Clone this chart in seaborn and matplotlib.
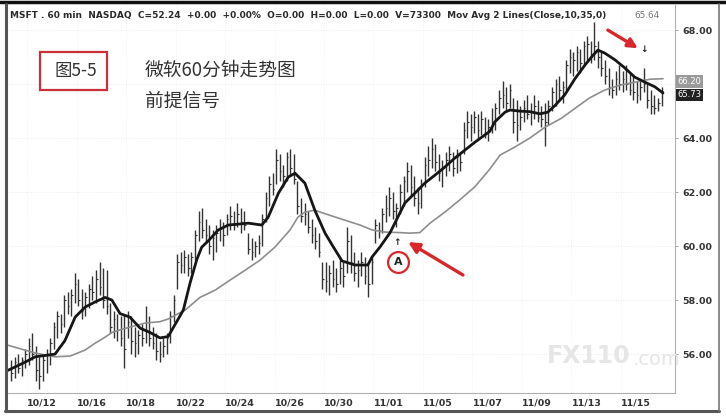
import numpy as np
import pandas as pd
import matplotlib
matplotlib.use("Agg")
import matplotlib.pyplot as plt
import seaborn as sns
from matplotlib.patches import Rectangle
from matplotlib.lines import Line2D

# trading days shown (first and last are partial sessions)
day_labels = ["10/11", "10/12", "10/15", "10/16", "10/17", "10/18", "10/19",
              "10/22", "10/23", "10/24", "10/25", "10/26", "10/29", "10/30",
              "10/31", "11/01", "11/02", "11/05", "11/06", "11/07", "11/08",
              "11/09", "11/12", "11/13", "11/14", "11/15", "11/16"]
bars_per_day = [5] + [7] * 25 + [5]
shown_labels = ["10/12", "10/16", "10/18", "10/22", "10/24", "10/26", "10/30",
                "11/01", "11/05", "11/07", "11/09", "11/13", "11/15"]

# 60-minute bars, one row per day
highs = [
    55.8, 55.9, 56.0, 55.9, 56.2,
    56.6, 56.8, 56.3, 55.9, 56.0, 56.2, 56.6,
    57.2, 57.6, 57.5, 58.2, 58.3, 58.4, 59.0,
    58.8, 58.4, 58.3, 58.6, 58.9, 59.1, 59.4,
    59.2, 59.1, 57.9, 57.6, 57.5, 57.4, 57.5,
    57.6, 57.4, 57.0, 56.9, 57.1, 57.8, 57.4,
    57.0, 56.8, 56.5, 56.6, 56.8, 57.6, 58.2,
    59.7, 59.8, 59.85, 59.7, 59.8, 60.6, 61.3,
    61.4, 61.0, 60.8, 60.6, 60.8, 61.0, 60.9,
    61.2, 61.5, 61.3, 61.6, 61.4, 61.3, 60.5,
    60.3, 60.2, 60.4, 61.2, 62.0, 62.6, 62.7,
    63.6, 63.4, 63.0, 63.5, 63.6, 63.4, 62.4,
    61.8, 61.6, 61.3, 61.0, 60.7, 60.5, 59.4,
    59.4, 59.3, 59.5, 59.2, 59.6, 59.4, 60.7,
    60.4, 59.8, 59.5, 59.8, 59.6, 59.3, 59.6,
    61.0, 60.9, 61.4, 61.9, 62.2, 62.0, 61.6,
    62.3, 62.6, 63.1, 63.0, 62.6, 62.2, 62.5,
    63.3, 63.7, 64.0, 63.8, 63.4, 63.2, 63.5,
    63.7, 63.5, 63.6, 63.5, 64.6, 65.0, 64.9,
    65.0, 64.9, 65.0, 64.8, 64.7, 65.1, 65.3,
    65.8, 66.1, 65.9, 66.0, 65.5, 65.4, 65.2,
    65.4, 65.6, 65.3, 65.6, 65.4, 65.2, 65.3,
    65.4, 65.9, 66.2, 66.3, 66.1, 66.9, 67.3,
    67.2, 67.4, 67.3, 67.6, 67.8, 67.6, 68.3,
    67.6, 67.2, 66.9, 66.6, 66.2, 66.5, 66.7,
    66.5, 66.7, 66.4, 66.3, 66.1, 66.2, 66.6,
    66.0, 65.8, 65.6, 65.5, 65.9,
]
lows = [
    55.0, 55.1, 55.3, 55.2, 55.5,
    55.6, 55.8, 55.0, 54.7, 55.0, 55.3, 55.6,
    56.2, 56.6, 56.8, 57.0, 57.5, 57.4, 57.9,
    57.8, 57.3, 57.4, 57.7, 58.0, 57.9, 58.2,
    57.7, 57.5, 56.8, 56.6, 56.5, 56.3, 55.5,
    56.6, 56.0, 55.9, 56.0, 56.3, 56.4, 56.3,
    56.2, 55.8, 55.7, 55.9, 56.0, 56.4, 57.2,
    58.4, 59.0, 59.0, 58.9, 59.0, 59.5, 60.2,
    60.3, 60.1, 59.7, 59.5, 59.8, 60.2, 60.0,
    60.4, 60.6, 60.6, 60.7, 60.5, 60.6, 59.7,
    59.5, 59.6, 59.7, 60.0, 60.9, 61.5, 61.9,
    62.3, 62.4, 62.2, 62.4, 62.6, 62.3, 61.2,
    60.9, 60.8, 60.5, 60.1, 59.9, 59.6, 58.4,
    58.3, 58.2, 58.5, 58.3, 58.6, 58.5, 59.0,
    59.0, 58.7, 58.5, 58.9, 58.6, 58.1, 58.6,
    60.1, 60.3, 60.5, 60.9, 61.1, 61.0, 60.7,
    61.2, 61.5, 62.0, 61.9, 61.5, 61.2, 61.4,
    62.2, 62.6, 62.9, 62.8, 62.4, 62.2, 62.6,
    62.8, 62.6, 62.7, 62.8, 63.4, 64.0, 63.9,
    64.2, 64.0, 64.1, 64.0, 63.9, 64.2, 64.3,
    64.9, 65.1, 65.0, 65.1, 64.2, 63.9, 64.3,
    64.6, 64.7, 64.5, 64.7, 64.6, 64.4, 63.7,
    64.5, 65.0, 65.2, 65.4, 65.3, 65.8, 66.4,
    66.3, 66.5, 66.4, 66.7, 66.9, 66.8, 66.9,
    66.6, 66.3, 66.0, 65.6, 65.5, 65.6, 65.8,
    65.7, 65.8, 65.6, 65.4, 65.3, 65.4, 65.7,
    65.1, 64.9, 64.9, 65.0, 65.2,
]
closes = [
    55.3, 55.7, 55.5, 55.8, 56.0,
    56.3, 56.0, 55.4, 55.2, 55.8, 56.0, 56.4,
    57.0, 57.4, 57.1, 58.0, 57.8, 58.2, 58.6,
    58.0, 57.6, 58.1, 58.4, 58.3, 58.8, 58.5,
    58.0, 57.8, 57.0, 57.3, 56.9, 56.6, 56.2,
    57.2, 56.5, 56.4, 56.7, 56.6, 56.9, 56.6,
    56.4, 56.1, 56.0, 56.3, 56.6, 57.4, 58.0,
    59.4, 59.3, 59.6, 59.2, 59.6, 60.4, 60.9,
    60.6, 60.4, 60.0, 60.3, 60.5, 60.7, 60.4,
    61.0, 61.1, 60.8, 61.2, 60.9, 60.8, 59.9,
    59.8, 60.0, 60.1, 61.0, 61.8, 62.3, 62.1,
    63.2, 62.8, 62.6, 63.3, 62.9, 62.5, 61.5,
    61.1, 61.2, 60.7, 60.4, 60.2, 59.8, 58.8,
    58.7, 59.0, 58.8, 58.6, 59.2, 58.9, 60.2,
    59.4, 59.0, 59.1, 59.4, 58.9, 58.6, 59.4,
    60.8, 60.6, 61.2, 61.4, 61.8, 61.3, 61.4,
    62.0, 62.4, 62.8, 62.2, 61.8, 61.6, 62.3,
    63.0, 63.2, 63.6, 63.1, 62.7, 62.9, 63.2,
    63.4, 62.9, 63.3, 63.1, 64.3, 64.6, 64.4,
    64.8, 64.3, 64.7, 64.2, 64.4, 64.6, 65.1,
    65.5, 65.6, 65.3, 65.8, 64.6, 64.5, 64.8,
    65.1, 64.9, 65.0, 65.2, 64.8, 64.7, 64.6,
    65.2, 65.7, 66.0, 65.8, 65.9, 66.7, 67.0,
    66.9, 67.2, 66.8, 67.4, 67.5, 67.0, 67.4,
    67.0, 66.6, 66.3, 65.9, 65.8, 66.2, 66.0,
    66.2, 66.0, 65.8, 65.7, 65.6, 65.9, 66.0,
    65.4, 65.2, 65.1, 65.3, 65.73,
]

# moving averages (bar position, price)
ma10_pos = [-0.9, 3.9, 6.8, 12.4, 15.2, 18.1, 20.9, 23.7, 26.6, 28.5, 30.8,
            33.6, 36.5, 39.3, 42.1, 44.4, 48.7, 50.6, 52.5, 53.9, 55.8, 58.6,
            61.4, 67.1, 70.9, 72.7, 75.6, 78.4, 80.3, 83.1, 85.9, 88.8, 91.0,
            93.6, 97.3, 100.9, 102.1, 104.3, 107.2, 109.1, 111.4, 114.2, 117.0,
            119.9, 122.7, 125.5, 128.4, 131.2, 135.4, 136.8, 139.7, 141.1,
            143.9, 146.7, 149.6, 151.8, 153.8, 156.6, 159.5, 162.3, 164.6,
            166.0, 167.9, 170.8, 173.6, 176.4, 179.3, 182.1, 184.4]
ma10_val = [55.4, 55.7, 55.9, 56.0, 56.5, 57.37, 57.74, 57.93, 58.1, 58.0, 57.5,
            57.37, 56.96, 56.8, 56.6, 56.65, 57.63, 58.63, 59.5, 59.96, 60.2,
            60.6, 60.78, 60.85, 60.78, 61.07, 61.96, 62.56, 62.7, 62.33, 61.33,
            60.48, 60.0, 59.45, 59.3, 59.3, 59.6, 59.96, 60.5, 61.0, 61.6,
            61.96, 62.33, 62.63, 62.93, 63.26, 63.56, 63.85, 64.25, 64.6,
            64.96, 65.04, 65.0, 64.98, 64.9, 64.96, 65.2, 65.6, 66.2, 66.7,
            67.07, 67.26, 67.15, 66.9, 66.6, 66.26, 66.07, 65.9, 65.67]
ma35_pos = [-0.9, 2.5, 6.8, 12.4, 16.7, 20.9, 23.7, 26.6, 28.5, 30.8, 33.6,
            37.9, 42.1, 44.4, 49.2, 53.4, 57.7, 61.9, 66.1, 70.4, 74.6, 78.9,
            81.1, 83.1, 85.9, 88.8, 94.4, 98.7, 102.1, 105.7, 110.0, 112.8,
            115.6, 118.5, 122.7, 126.8, 131.2, 135.4, 138.3, 142.5, 146.7,
            151.0, 155.7, 159.5, 163.5, 167.9, 172.2, 176.4, 180.7, 184.4]
ma35_val = [56.33, 56.2, 56.04, 55.9, 55.93, 56.15, 56.4, 56.63, 56.8, 56.9,
            57.0, 57.15, 57.2, 57.3, 57.63, 58.1, 58.37, 58.74, 59.1, 59.48,
            59.96, 60.6, 61.07, 61.26, 61.33, 61.2, 60.96, 60.78, 60.6, 60.52,
            60.5, 60.48, 60.5, 60.85, 61.26, 61.7, 62.2, 62.85, 63.37, 63.67,
            64.0, 64.4, 64.74, 65.1, 65.48, 65.78, 65.96, 66.07, 66.18, 66.2]

price_ticks = [56, 58, 60, 62, 64, 66, 68]

bars = pd.DataFrame({"high": highs, "low": lows, "close": closes})
bars["pos"] = np.arange(len(bars))
day_start = np.cumsum([0] + bars_per_day[:-1]) - 0.5
label_pos = [day_start[day_labels.index(d)] for d in shown_labels]
extra_tick = label_pos[-1] + 7 * 2   # unlabeled tick two sessions after 11/15

sns.set_theme(style="white")
plt.rcParams["font.family"] = ["DejaVu Sans", "Noto Sans CJK SC"]

W, H = 726, 419
fig = plt.figure(figsize=(W / 100, H / 100), dpi=100)
fig.patch.set_facecolor("white")
ax = fig.add_axes([8 / W, 1 - 393 / H, (675 - 8) / W, (393 - 5) / H])

# faint grid
for p in price_ticks:
    ax.axhline(p, color="#e4e4e4", lw=0.6, ls=(0, (1, 2)), zorder=0)
for p in label_pos:
    ax.axvline(p, color="#ececec", lw=0.6, ls=(0, (1, 2)), zorder=0)

# HLC bars
ax.vlines(bars["pos"], bars["low"], bars["high"], color="#333333", lw=1.0, zorder=2)
ax.hlines(bars["close"], bars["pos"], bars["pos"] + 0.45, color="#333333", lw=0.8, zorder=2)

sns.lineplot(x=ma35_pos, y=ma35_val, ax=ax, color="#8e8e8e", lw=1.2, sort=False, zorder=3)
sns.lineplot(x=ma10_pos, y=ma10_val, ax=ax, color="#161616", lw=2.0, sort=False, zorder=4)

ax.set_xticks(list(label_pos) + [extra_tick])
ax.set_xticklabels(shown_labels + [""], fontsize=6.8, fontweight="bold", color="#333333")
for lbl in ax.get_xticklabels():
    lbl.set_ha("left")
ax.tick_params(axis="x", direction="in", length=4, width=0.6, color="#999999", pad=4)

ax.yaxis.tick_right()
ax.set_yticks(price_ticks)
ax.set_yticklabels([f"{p:.2f}" if p != 66 else "" for p in price_ticks],
                   fontsize=6.8, fontweight="bold", color="#333333")
ax.tick_params(axis="y", direction="out", length=2, width=0.6, color="#999999", pad=3)

ax.set_xlim(-0.9, 187.8)
ax.set_ylim(54.56, 68.93)

for side in ["top", "left"]:
    ax.spines[side].set_visible(False)
ax.spines["bottom"].set_color("#b0b0b0")
ax.spines["bottom"].set_linewidth(0.8)
ax.spines["right"].set_color("#b0b0b0")
ax.spines["right"].set_linewidth(0.8)

# value tags on the price axis (stacked)
ytr = ax.get_yaxis_transform()
ax.text(1.004, 66.10, "66.20", transform=ytr, fontsize=6.0, color="white", va="center", ha="left",
        bbox=dict(boxstyle="square,pad=0.2", fc="#9a9a9a", ec="none"), zorder=6, clip_on=False)
ax.text(1.004, 65.60, "65.73", transform=ytr, fontsize=6.0, color="white", va="center", ha="left",
        bbox=dict(boxstyle="square,pad=0.2", fc="#222222", ec="none"), zorder=6, clip_on=False)

# signal annotations
red = "#d9262b"
ax.annotate("", xy=(112.3, 60.15), xytext=(127.8, 58.93),
            arrowprops=dict(arrowstyle="-|>", color=red, lw=2.4, mutation_scale=16, shrinkA=0, shrinkB=0),
            zorder=7)
ax.text(109.1, 60.15, "↑", fontsize=6.5, fontweight="bold", ha="center", va="center", color="#222222")
ax.plot([109.4], [59.4], marker="o", ms=15, mfc="white", mec=red, mew=1.6, zorder=7)
ax.text(109.4, 59.4, "A", fontsize=8, fontweight="bold", ha="center", va="center", color="#222222", zorder=8)

ax.annotate("", xy=(177.3, 67.33), xytext=(168.8, 68.0),
            arrowprops=dict(arrowstyle="-|>", color=red, lw=2.4, mutation_scale=14, shrinkA=0, shrinkB=0),
            zorder=7)
ax.text(178.9, 67.3, "↓", fontsize=6.5, fontweight="bold", ha="center", va="center", color="#222222")

# header line
fig.text(10 / W, 1 - 15 / H, "MSFT . 60 min  NASDAQ  C=52.24  +0.00  +0.00%  O=0.00  H=0.00  "
         "L=0.00  V=73300  Mov Avg 2 Lines(Close,10,35,0)",
         fontsize=6.5, fontweight="bold", color="#2a2a2a", va="center", ha="left")
fig.text(634 / W, 1 - 15 / H, "65.64", fontsize=6.4, color="#777777", va="center", ha="left")

# title block
fig.add_artist(Rectangle((40 / W, 1 - 90 / H), 67 / W, 38 / H, transform=fig.transFigure,
                         fill=False, ec="#c9303a", lw=1.6))
fig.text(76 / W, 1 - 71 / H, "图5-5", fontsize=12.5, color="#333333", ha="center", va="center",
         family=["Noto Sans CJK SC", "DejaVu Sans"])
fig.text(145 / W, 1 - 70 / H, "微软60分钟走势图", fontsize=13.5, color="#333333", ha="left", va="center",
         family=["Noto Sans CJK SC", "DejaVu Sans"])
fig.text(145 / W, 1 - 101 / H, "前提信号", fontsize=13.5, color="#333333", ha="left", va="center",
         family=["Noto Sans CJK SC", "DejaVu Sans"])

# watermark
fig.text(547 / W, 1 - 356 / H, "FX110", fontsize=17, fontweight="bold", color="#e6e6e6",
         ha="left", va="center", zorder=0)
fig.text(633 / W, 1 - 359 / H, ".com", fontsize=14, color="#e6e6e6", ha="left", va="center", zorder=0)

# outer frame
fig.add_artist(Line2D([0, 1], [1 - 2 / H, 1 - 2 / H], transform=fig.transFigure, color="#111111", lw=2.5))
fig.add_artist(Line2D([6 / W, 6 / W], [1 - 411 / H, 1 - 4 / H], transform=fig.transFigure, color="#555555", lw=2.2))
fig.add_artist(Line2D([5 / W, 719 / W], [1 - 411 / H, 1 - 411 / H], transform=fig.transFigure, color="#555555", lw=2.2))
fig.add_artist(Line2D([719 / W, 719 / W], [1 - 411 / H, 1 - 4 / H], transform=fig.transFigure, color="#777777", lw=1.2))

fig.savefig("out.png", dpi=100)
